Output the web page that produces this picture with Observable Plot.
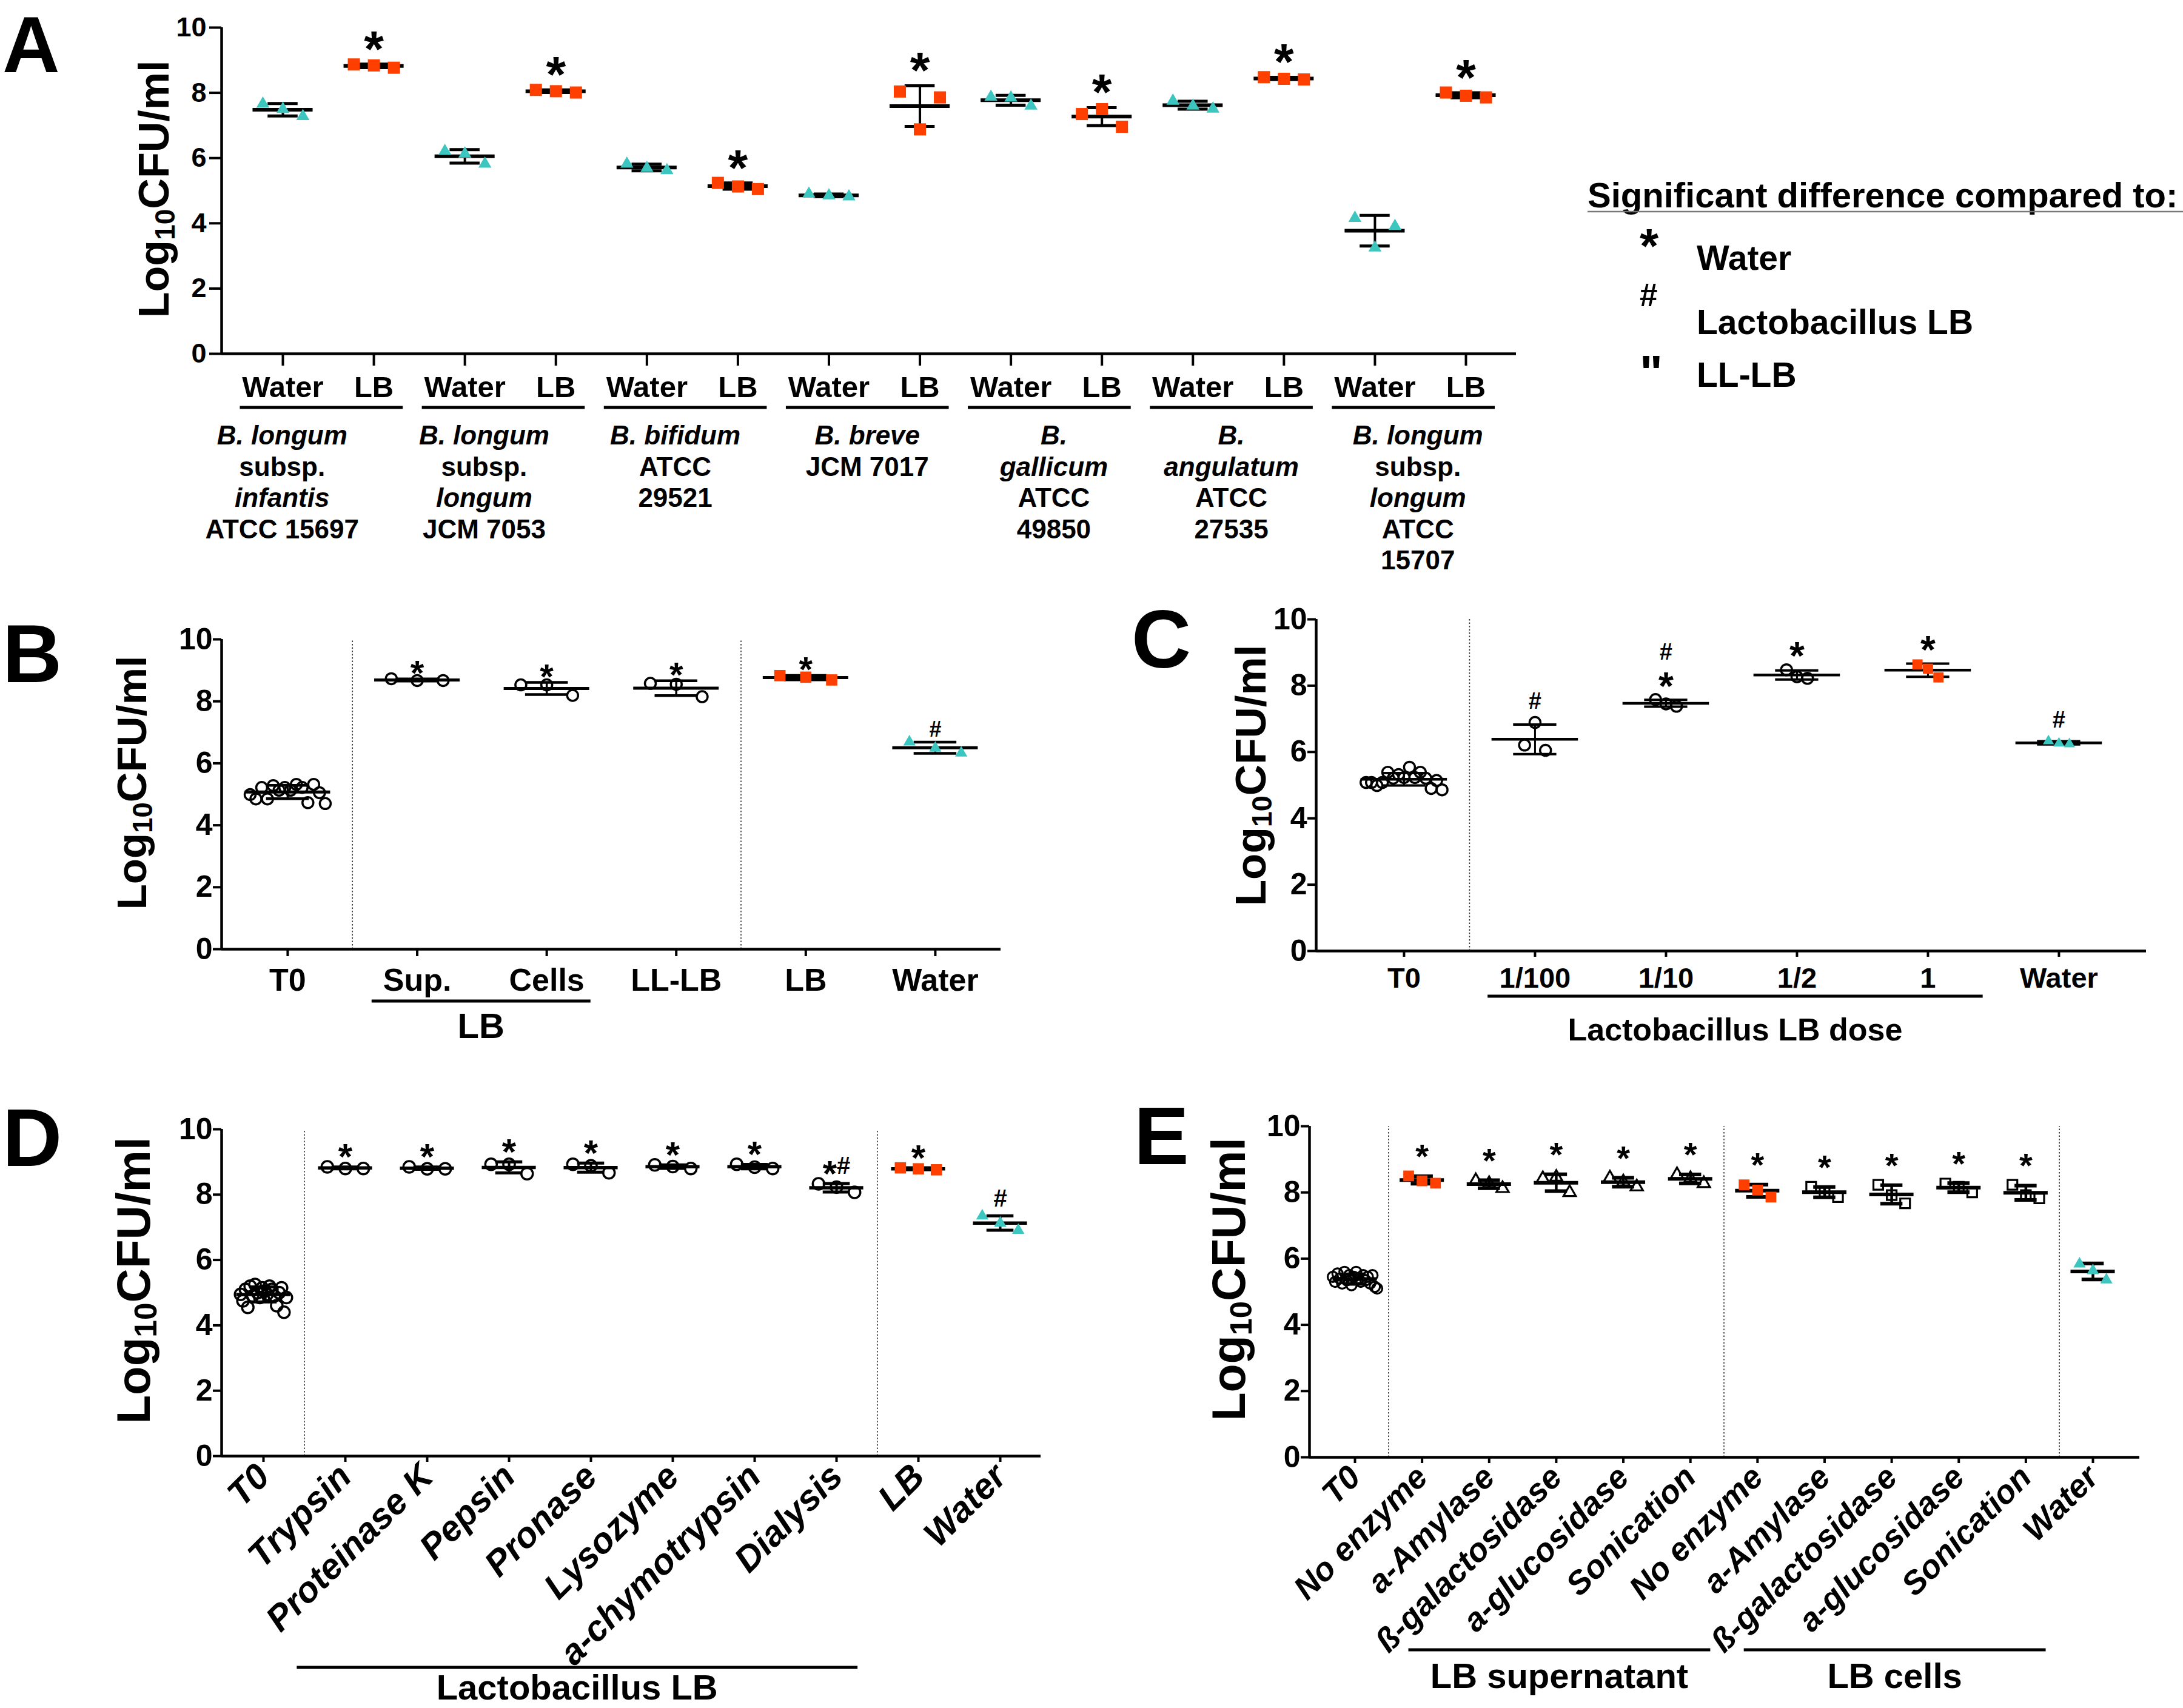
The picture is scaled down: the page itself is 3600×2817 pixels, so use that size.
<!DOCTYPE html>
<html>
<head>
<meta charset="utf-8">
<script src="https://cdn.jsdelivr.net/npm/d3@7"></script>
<script src="https://cdn.jsdelivr.net/npm/@observablehq/plot@0.6"></script>
<style>
  html, body { margin: 0; padding: 0; background: #fff; }
  #page { position: relative; width: 3600px; height: 2817px; background: #fff; overflow: hidden; }
  .panel { position: absolute; }
  #overlay { position: absolute; left: 0; top: 0; }
</style>
</head>
<body>
<div id="page"></div>
<script>
const FONT = '"Liberation Sans", Arial, Helvetica, sans-serif';
const RED = "#FF3F00";
const CYAN = "#3CC6BF";

// ================= DATA =================
// Panel A
const aCategories = ["Water","LB","Water","LB","Water","LB","Water","LB","Water","LB","Water","LB","Water","LB"];
const aReplicates = [
  [7.66, 7.50, 7.28], [8.87, 8.84, 8.77],
  [6.21, 6.13, 5.82], [8.09, 8.05, 8.01],
  [5.82, 5.69, 5.62], [5.24, 5.13, 5.05],
  [4.90, 4.85, 4.82], [8.04, 6.88, 7.86],
  [7.87, 7.85, 7.60], [7.35, 7.50, 6.96],
  [7.75, 7.60, 7.51], [8.48, 8.43, 8.41],
  [4.16, 3.25, 3.91], [8.01, 7.91, 7.86]
];
const aKinds = ["water","lb","water","lb","water","lb","water","lb","water","lb","water","lb","water","lb"];
const aSig = ["","*","","*","","*","","*","","*","","*","","*"];
const aStrains = [
  [["B. longum",1],["subsp.",0],["infantis",1],["ATCC 15697",0]],
  [["B. longum",1],["subsp.",0],["longum",1],["JCM 7053",0]],
  [["B. bifidum",1],["ATCC",0],["29521",0]],
  [["B. breve",1],["JCM 7017",0]],
  [["B.",1],["gallicum",1],["ATCC",0],["49850",0]],
  [["B.",1],["angulatum",1],["ATCC",0],["27535",0]],
  [["B. longum",1],["subsp.",0],["longum",1],["ATCC",0],["15707",0]]
];

// Panel B
const bCategories = ["T0","Sup.","Cells","LL-LB","LB","Water"];
const bReplicates = [
  [4.99,4.85,5.22,4.85,5.28,5.13,5.22,5.13,5.32,5.22,4.73,5.32,5.05,4.70],
  [8.73,8.67,8.67],
  [8.53,8.53,8.19],
  [8.58,8.55,8.15],
  [8.83,8.78,8.69],
  [6.69,6.49,6.33]
];
const bKinds = ["open","open","open","open","lb","water"];
const bSections = ["t0","test","test","test","ctrl","ctrl"];
const bSig = ["","*","*","*","*","#"];
const bGroups = [{from: 1, to: 2, label: "LB"}];

// Panel C
const cCategories = ["T0","1/100","1/10","1/2","1","Water"];
const cReplicates = [
  [5.08,5.08,4.99,5.08,5.39,5.21,5.32,5.23,5.54,5.23,5.39,5.21,4.90,5.14,4.86],
  [6.21,6.89,6.05],
  [7.58,7.45,7.38],
  [8.48,8.27,8.22],
  [8.64,8.51,8.25],
  [6.33,6.26,6.24]
];
const cKinds = ["open","open","open","open","lb","water"];
const cSections = ["t0","dose","dose","dose","dose","dose"];
const cSig = ["","#","*","*","*","#"];
const cSigAbove = ["","","#","","",""];
const cGroups = [{from: 1, to: 4, label: "Lactobacillus LB dose"}];

// Panel D
const dCategories = ["T0","Trypsin","Proteinase K","Pepsin","Pronase","Lysozyme","a-chymotrypsin","Dialysis","LB","Water"];
const dReplicates = [
  [4.95,4.75,5.10,4.55,5.20,4.90,5.25,5.00,4.85,5.15,5.05,4.95,5.20,5.10,4.90,4.60,5.00,5.15,4.40,4.85],
  [8.85,8.80,8.80],
  [8.85,8.79,8.79],
  [8.93,8.93,8.64],
  [8.93,8.88,8.67],
  [8.91,8.86,8.80],
  [8.93,8.84,8.80],
  [8.33,8.23,8.07],
  [8.82,8.79,8.76],
  [7.35,7.13,6.91]
];
const dKinds = ["open","open","open","open","open","open","open","open","lb","water"];
const dSections = ["t0","lb","lb","lb","lb","lb","lb","lb","ctrl","ctrl"];
const dSig = ["","*","*","*","*","*","*","*#","*","#"];
const dGroups = [{from: 1, to: 7, label: "Lactobacillus LB"}];

// Panel E
const eCategories = ["T0","No enzyme","a-Amylase","ß-galactosidase","a-glucosidase","Sonication",
                     "No enzyme","a-Amylase","ß-galactosidase","a-glucosidase","Sonication","Water"];
const eReplicates = [
  [5.45,5.30,5.55,5.40,5.25,5.60,5.35,5.50,5.20,5.45,5.60,5.40,5.30,5.50,5.35,5.45,5.25,5.50,5.15,5.10],
  [8.50,8.35,8.28],
  [8.36,8.27,8.12],
  [8.42,8.46,8.00],
  [8.44,8.32,8.17],
  [8.54,8.42,8.27],
  [8.23,8.07,7.86],
  [8.17,8.00,7.86],
  [8.23,7.92,7.67],
  [8.27,8.17,8.00],
  [8.23,7.92,7.82],
  [5.84,5.64,5.36]
];
const eKinds = ["open","lb","openTri","openTri","openTri","openTri","lb","openSq","openSq","openSq","openSq","water"];
const eSections = ["t0","sup","sup","sup","sup","sup","cells","cells","cells","cells","cells","water"];
const eSig = ["","*","*","*","*","*","*","*","*","*","*",""];
const eGroups = [{from: 1, to: 5, label: "LB supernatant"}, {from: 6, to: 10, label: "LB cells"}];

const yTicks = [0, 2, 4, 6, 8, 10];

// ================= LAYOUT / STYLE =================
const common = {meanHalf: 0.33, capHalf: 0.165};
const LA = {...common, box: {left: 0, top: 0, width: 2600, height: 1000}, frame: {x0: 365, x1: 2500, y0: 45, y1: 583},
  xDomain: [-0.673, 13.553], spread: 0.22, cloud: 0.29,
  triR: 8, sqR: 11.3, circR: 9, openW: 3.5, markerR: 10,
  meanW: 6, capW: 5, stemW: 4, axisW: 4.5, tickW: 4,
  yTick: {size: 20, pad: 5, font: 45}, xTick: {size: 20, pad: 17, font: 49},
  sigGap: 33, starSize: 84, hashSize: 40,
  groupPad: [-0.47, 0.32], labelShift: [-0.43, -0.21, -0.11, 0, 0.05, 0, 0.05],
  barY: 672, barW: 5, labelY: 733, labelLH: 51.5, labelFont: 44,
  ylab: {x: 278, y: 312, size: 70}};
const LB_ = {...common, box: {left: 0, top: 1000, width: 1760, height: 760}, frame: {x0: 365, x1: 1650, y0: 1054, y1: 1565},
  xDomain: [-0.510, 5.506], spread: 0.2, cloud: 0.29,
  triR: 7.5, sqR: 10.5, circR: 9, openW: 3.5, markerR: 9,
  meanW: 5, capW: 4.5, stemW: 3.5, axisW: 4.5, tickW: 4,
  yTick: {size: 14, pad: 1, font: 50}, xTick: {size: 12, pad: 20, font: 52},
  sigGap: 13, starSize: 58, hashSize: 36,
  groupPad: [-0.35, 0.34], barY: 1651, barW: 5, labelY: 1712, labelLH: 0, labelFont: 58,
  ylab: {x: 241, y: 1291, size: 69}};
const LC = {...common, box: {left: 1800, top: 990, width: 1800, height: 770}, frame: {x0: 2170, x1: 3539, y0: 1021, y1: 1568},
  xDomain: [-0.671, 5.667], spread: 0.08, cloud: 0.29,
  triR: 6.8, sqR: 9.5, circR: 9, openW: 3.5, markerR: 9,
  meanW: 4.5, capW: 4, stemW: 3, axisW: 4.5, tickW: 4,
  yTick: {size: 14, pad: 1, font: 50}, xTick: {size: 10, pad: 17, font: 47},
  sigGap: 27, sig2Gap: 71, starSize: 64, hashSize: 38,
  groupPad: [-0.36, 0.42], barY: 1643, barW: 5, labelY: 1716, labelLH: 0, labelFont: 52,
  ylab: {x: 2087, y: 1279, size: 71}};
const LD = {...common, box: {left: 0, top: 1760, width: 1800, height: 1057}, frame: {x0: 365, x1: 1716, y0: 1862, y1: 2401},
  xDomain: [-0.511, 9.496], spread: 0.22, cloud: 0.28,
  triR: 7.5, sqR: 10.5, circR: 9.5, openW: 3.5, markerR: 10,
  meanW: 5.5, capW: 5, stemW: 4, axisW: 4.5, tickW: 4,
  yTick: {size: 14, pad: 1, font: 50}, xTick: {size: 10, pad: 14, font: 59, rotate: -45, italic: true},
  sigGap: 20, starSize: 60, hashSize: 40,
  groupPad: [-0.59, 0.26], barY: 2750, barW: 5, labelY: 2803, labelLH: 0, labelFont: 58,
  ylab: {x: 247, y: 2112, size: 78}};
const LE = {...common, box: {left: 1800, top: 1760, width: 1800, height: 1057}, frame: {x0: 2159, x1: 3528, y0: 1857, y1: 2403},
  xDomain: [-0.678, 11.696], spread: 0.2, cloud: 0.33,
  triR: 7.5, sqR: 10, circR: 8.5, openW: 3.2, markerR: 10,
  meanW: 6, capW: 6, stemW: 4.5, axisW: 4.5, tickW: 4,
  yTick: {size: 14, pad: 1, font: 50}, xTick: {size: 10, pad: 14, font: 54, rotate: -45, italic: true},
  sigGap: 35, starSize: 56, hashSize: 38,
  groupPad: [-0.2, 0.3], barY: 2721, barW: 5, labelY: 2784, labelLH: 0, labelFont: 58,
  ylab: {x: 2053, y: 2110, size: 77}};

// ================= DRAW =================
const page = document.getElementById("page");

function makePanel(D, L) {
  const n = D.labels.length;
  const points = [], stats = [];
  D.reps.forEach((vals, i) => {
    const m = vals.length;
    vals.forEach((v, k) => {
      const off = m > 3 ? -L.cloud + 2 * L.cloud * k / (m - 1) : (k - (m - 1) / 2) * L.spread;
      points.push({x: i + off, y: v, kind: D.kinds[i]});
    });
    const mean = d3.mean(vals), sd = d3.deviation(vals) || 0;
    stats.push({i, mean, lo: mean - sd, hi: mean + sd, top: Math.max(d3.max(vals), mean + sd),
      sig: D.sig[i] || "", sig2: (D.sigAbove && D.sigAbove[i]) || ""});
  });
  const seps = [];
  if (D.sections) for (let i = 1; i < n; i++) if (D.sections[i] !== D.sections[i - 1]) seps.push(i - 0.5);

  const sym = {
    water: {symbol: "triangle", fill: CYAN, r: L.triR},
    lb: {symbol: "square", fill: RED, r: L.sqR},
    open: {symbol: "circle", fill: "none", stroke: "black", strokeWidth: L.openW, r: L.circR},
    openTri: {symbol: "triangle", fill: "none", stroke: "black", strokeWidth: L.openW, r: L.triR},
    openSq: {symbol: "square", fill: "none", stroke: "black", strokeWidth: L.openW, r: L.sqR * 0.9}
  };
  const dotMarks = Object.entries(sym).map(([kind, o]) =>
    Plot.dot(points.filter(p => p.kind === kind), {x: "x", y: "y", ...o}));

  const marks = [
    Plot.ruleX(seps, {y1: 0, y2: 10, stroke: "#333", strokeWidth: 1.6, strokeDasharray: "2.5,3"}),
    Plot.ruleX(stats, {x: "i", y1: "lo", y2: "hi", stroke: "black", strokeWidth: L.stemW}),
    Plot.ruleY(stats, {y: "lo", x1: d => d.i - L.capHalf, x2: d => d.i + L.capHalf, stroke: "black", strokeWidth: L.capW}),
    Plot.ruleY(stats, {y: "hi", x1: d => d.i - L.capHalf, x2: d => d.i + L.capHalf, stroke: "black", strokeWidth: L.capW}),
    Plot.ruleY(stats, {y: "mean", x1: d => d.i - L.meanHalf, x2: d => d.i + L.meanHalf, stroke: "black", strokeWidth: L.meanW}),
    ...dotMarks,
    Plot.ruleY([0], {stroke: "black", strokeWidth: L.axisW}),
    Plot.ruleX([L.xDomain[0]], {y1: 0, y2: 10, stroke: "black", strokeWidth: L.axisW}),
    Plot.axisY({ticks: yTicks, tickSize: L.yTick.size, tickPadding: L.yTick.pad, fontSize: L.yTick.font,
      strokeWidth: L.tickW, label: null}),
    Plot.axisX({ticks: d3.range(n), tickFormat: i => D.labels[i], tickSize: L.xTick.size, tickPadding: L.xTick.pad,
      fontSize: L.xTick.font, tickRotate: L.xTick.rotate || 0, fontStyle: L.xTick.italic ? "italic" : "normal",
      strokeWidth: L.tickW, label: null}),
    Plot.text(stats.filter(d => d.sig), {x: "i", y: "top", text: "sig", dy: -(L.markerR + L.sigGap), fill: "black"})
  ];
  if (D.sigAbove) marks.push(Plot.text(stats.filter(d => d.sig2), {x: "i", y: "top", text: "sig2",
    dy: -(L.markerR + L.sig2Gap), fill: "black"}));

  const B = L.box, F = L.frame;
  const chart = Plot.plot({
    width: B.width, height: B.height,
    marginLeft: F.x0 - B.left, marginRight: B.left + B.width - F.x1,
    marginTop: F.y0 - B.top, marginBottom: B.top + B.height - F.y1,
    x: {type: "linear", domain: L.xDomain},
    y: {type: "linear", domain: [0, 10]},
    style: {fontFamily: FONT, fontWeight: "bold", color: "black", background: "transparent", overflow: "visible"},
    marks
  });
  chart.classList.add("panel");
  chart.style.left = B.left + "px";
  chart.style.top = B.top + "px";
  page.appendChild(chart);

  // significance markers: per-character sizes, glyph-centred on the anchor
  d3.select(chart).selectAll('g[aria-label="text"] text').each(function () {
    const el = d3.select(this);
    const s = el.text();
    el.text(null).attr("y", null).attr("dy", null);
    let prev = 0;
    for (const ch of s) {
      const size = ch === "*" ? L.starSize : L.hashSize;
      const off = (ch === "*" ? 0.56 : 0.36) * size;
      el.append("tspan").attr("font-size", size).attr("dy", off - prev).text(ch);
      prev = off;
    }
  });
  return chart;
}

const chartA = makePanel({labels: aCategories, reps: aReplicates, kinds: aKinds, sig: aSig}, LA);
const chartB = makePanel({labels: bCategories, reps: bReplicates, kinds: bKinds, sig: bSig, sections: bSections}, LB_);
const chartC = makePanel({labels: cCategories, reps: cReplicates, kinds: cKinds, sig: cSig, sigAbove: cSigAbove, sections: cSections}, LC);
const chartD = makePanel({labels: dCategories, reps: dReplicates, kinds: dKinds, sig: dSig, sections: dSections}, LD);
const chartE = makePanel({labels: eCategories, reps: eReplicates, kinds: eKinds, sig: eSig, sections: eSections}, LE);

// ================= OVERLAY TEXT =================
const ov = d3.select(page).append("svg").attr("id", "overlay")
  .attr("width", 3600).attr("height", 2817)
  .attr("font-family", FONT).attr("font-weight", "bold").attr("fill", "black");

function groupBars(chart, L, groups) {
  const xs = chart.scale("x");
  const step = xs.apply(1) - xs.apply(0);
  groups.forEach((g, gi) => {
    const x1 = L.box.left + xs.apply(g.from + L.groupPad[0]);
    const x2 = L.box.left + xs.apply(g.to + L.groupPad[1]);
    ov.append("line").attr("x1", x1).attr("x2", x2).attr("y1", L.barY).attr("y2", L.barY)
      .attr("stroke", "black").attr("stroke-width", L.barW);
    const cx = (x1 + x2) / 2 + (L.labelShift ? L.labelShift[gi] * step : 0);
    const lines = g.lines || [[g.label, 0]];
    lines.forEach(([t, it], k) => ov.append("text").attr("x", cx).attr("y", L.labelY + k * L.labelLH)
      .attr("text-anchor", "middle").attr("font-size", L.labelFont)
      .attr("font-style", it ? "italic" : "normal").text(t));
  });
}
groupBars(chartA, LA, aStrains.map((lines, g) => ({from: 2 * g, to: 2 * g + 1, lines})));
groupBars(chartB, LB_, bGroups);
groupBars(chartC, LC, cGroups);
groupBars(chartD, LD, dGroups);
groupBars(chartE, LE, eGroups);

// y-axis titles with subscript
[LA, LB_, LC, LD, LE].forEach(L => {
  const t = ov.append("text").attr("transform", `translate(${L.ylab.x},${L.ylab.y}) rotate(-90)`)
    .attr("text-anchor", "middle").attr("font-size", L.ylab.size);
  t.append("tspan").text("Log");
  t.append("tspan").attr("font-size", L.ylab.size * 0.66).attr("dy", L.ylab.size * 0.14).text("10");
  t.append("tspan").attr("dy", -L.ylab.size * 0.14).text("CFU/ml");
});

// panel letters
[["A", 4, 119, 131], ["B", 4, 1125, 136], ["C", 1866, 1101, 136], ["D", 4, 1923, 136], ["E", 1870, 1920, 136]].forEach(([l, x, y, s]) =>
  ov.append("text").attr("x", x).attr("y", y).attr("font-size", s).text(l));

// legend
ov.append("text").attr("x", 2618).attr("y", 342).attr("font-size", 58).text("Significant difference compared to:");
ov.append("line").attr("x1", 2618).attr("x2", 3600).attr("y1", 349).attr("y2", 349).attr("stroke", "#777").attr("stroke-width", 2.5);
const legendItems = [["*", 80, 433, "Water", 445], ["#", 53, 505, "Lactobacillus LB", 551], ["\"", 80, 642, "LL-LB", 638]];
legendItems.forEach(([sym, size, sy, label, ly]) => {
  ov.append("text").attr("x", 2704).attr("y", sy).attr("font-size", size).text(sym);
  ov.append("text").attr("x", 2798).attr("y", ly).attr("font-size", 57).text(label);
});
</script>
</body>
</html>
